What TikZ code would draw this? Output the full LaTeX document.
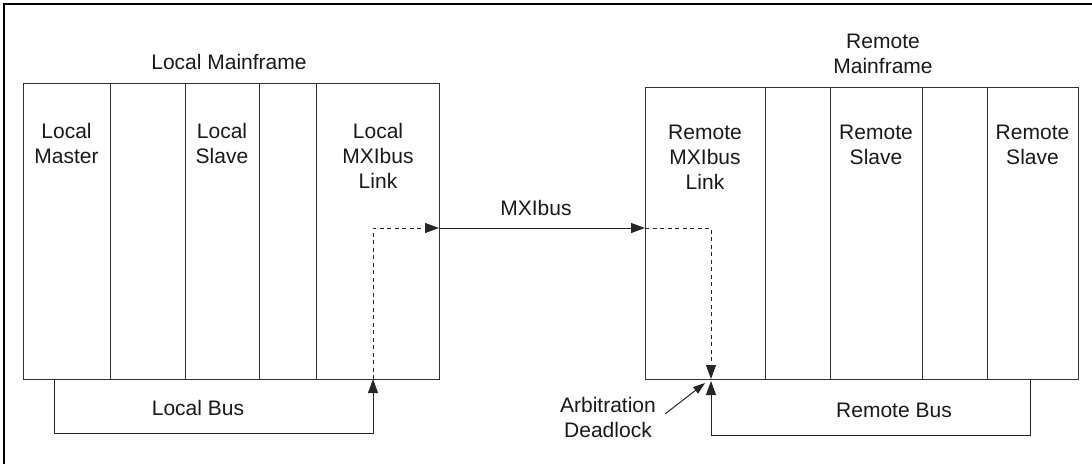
\documentclass[tikz,border=0pt]{standalone}
\usepackage{fontspec}
\setmainfont{Liberation Sans}
\usetikzlibrary{arrows.meta,calc}
\begin{document}
\begin{tikzpicture}[x=1pt,y=-1pt,
  slot/.style={draw=black!80,line width=1pt,inner sep=0pt,outer sep=0pt,anchor=north west},
  lbl/.style={align=center,inner sep=0pt,anchor=north,font=\fontsize{21}{25}\selectfont,text=black!90},
  lblb/.style={inner sep=0pt,anchor=base,font=\fontsize{21}{25}\selectfont,text=black!90},
  wire/.style={draw=black!85,line width=1pt},
  dashwire/.style={wire,dash pattern=on 4pt off 3.5pt},
  tip/.style={-{Triangle[length=14pt,width=10pt]}},
  smalltip/.style={-{Triangle[length=12pt,width=8pt]}}
]
\useasboundingbox (0,0) rectangle (1092,464);
\draw[line width=2.2pt] (4,464) -- (4,4) -- (1092,4);

% Local mainframe slots
\node[slot,minimum width=87pt,minimum height=296pt] (l1) at (23,83) {};
\node[slot,minimum width=75pt,minimum height=296pt] (l2) at (110,83) {};
\node[slot,minimum width=74pt,minimum height=296pt] (l3) at (185,83) {};
\node[slot,minimum width=57pt,minimum height=296pt] (l4) at (259,83) {};
\node[slot,minimum width=123pt,minimum height=296pt] (l5) at (316,83) {};

% Remote mainframe slots
\node[slot,minimum width=120pt,minimum height=292pt] (r1) at (645,87) {};
\node[slot,minimum width=65pt,minimum height=292pt] (r2) at (765,87) {};
\node[slot,minimum width=92pt,minimum height=292pt] (r3) at (830,87) {};
\node[slot,minimum width=65pt,minimum height=292pt] (r4) at (922,87) {};
\node[slot,minimum width=91pt,minimum height=292pt] (r5) at (987,87) {};

% Titles and slot labels
\node[lblb] (ltitle) at (229,69) {Local Mainframe};
\node[lbl] (rtitle) at (883,34) {Remote\\Mainframe};
\node[lbl] (t1) at (l1.north |- 0,123) {Local\\Master};
\node[lbl] (t3) at (l3.north |- 0,123) {Local\\Slave};
\node[lbl] (t5) at (378,123) {Local\\MXIbus\\Link};
\node[lbl] (u1) at (r1.north |- 0,125) {Remote\\MXIbus\\Link};
\node[lbl] (u3) at (r3.north |- 0,125) {Remote\\Slave};
\node[lbl] (u5) at (r5.north |- 0,125) {Remote\\Slave};

% Connection points
\coordinate (lmTap) at (54,379);
\coordinate (lbBL) at (54,433);
\coordinate (lbBR) at (373,433);
\coordinate (llTap) at (373,379);
\coordinate (lOut) at (439,228);
\coordinate (rIn) at (645,228);
\coordinate (rTurn) at (711,228);
\coordinate (rTap) at (711,379);
\coordinate (rTapUp) at (711,381);
\coordinate (rbBL) at (711,435);
\coordinate (rbBR) at (1030,435);
\coordinate (rsTap) at (1030,379);
\coordinate (adFrom) at (665,414);
\coordinate (adTo) at (705,383);

% Local bus
\draw[wire,tip] (lmTap) -- (lbBL) -- (lbBR) -- (llTap);
\node[lblb] (lbus) at (198,415) {Local Bus};
% local dashed path to MXIbus
\draw[dashwire,tip] (llTap) |- (lOut);
% MXIbus
\draw[wire,tip] (lOut) -- (rIn);
\node[lblb] (mxi) at (536,215) {MXIbus};
% remote dashed
\draw[dashwire,tip] (rIn) -- (rTurn) -- (rTap);
% remote bus
\draw[wire,tip] (rsTap) -- (rbBR) -- (rbBL) -- (rTapUp);
\node[lblb] (rbus) at (894,417) {Remote Bus};
% arbitration deadlock
\node[lbl] (ad) at (608,397) {Arbitration\\Deadlock};
\draw[wire,smalltip] (adFrom) -- (adTo);
\end{tikzpicture}
\end{document}
